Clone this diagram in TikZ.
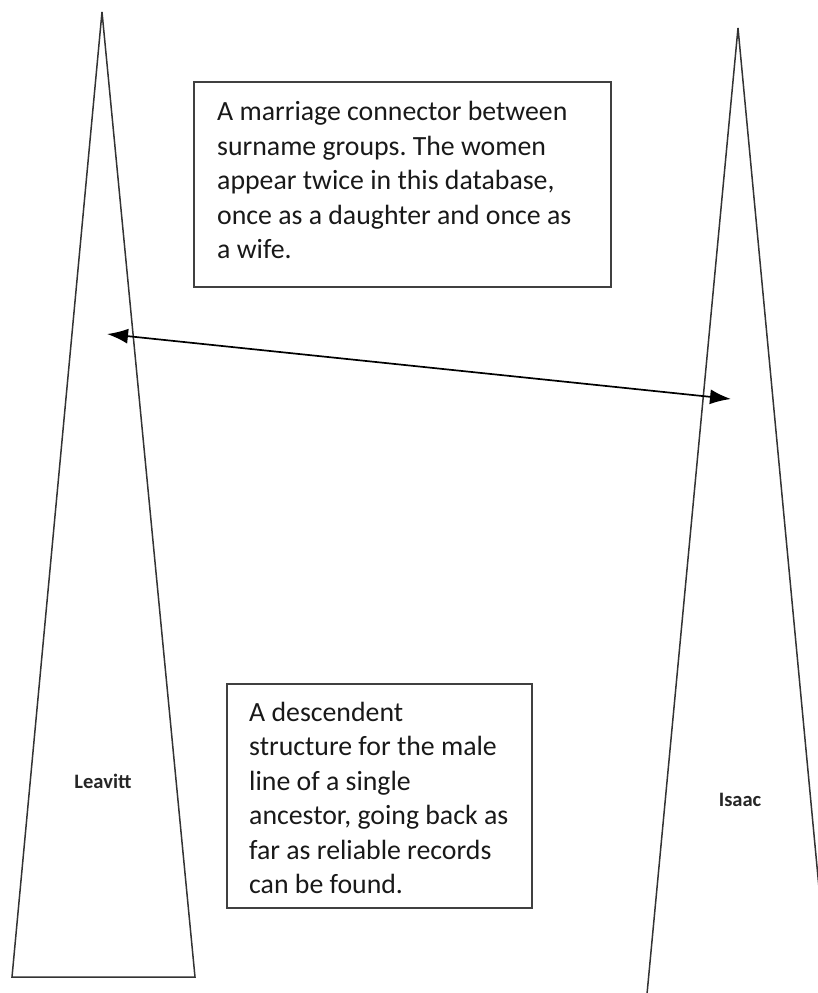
\documentclass[tikz,border=0pt]{standalone}
\usepackage{fontspec}
\setmainfont{Carlito}
\usetikzlibrary{arrows.meta}
\frenchspacing
\begin{document}
\begin{tikzpicture}[x=1pt,y=-1pt,
  tri/.style={draw=black!80, line width=1.5pt, line join=miter},
  boxstyle/.style={draw=black!75, line width=1.8pt},
  txt/.style={anchor=base west, inner sep=0pt, font=\frenchspacing\fontsize{27.8}{32}\selectfont, text=black!90},
  lbl/.style={anchor=base, inner sep=0pt, font=\bfseries\fontsize{20.5}{24}\selectfont, text=black!85},
  conn/.style={line width=1.7pt, black, {Latex[length=21pt,width=15pt]}-{Latex[length=21pt,width=15pt]}}]
\useasboundingbox (0,0) rectangle (818,993);
\clip (0,0) rectangle (818,993);
% triangles
\coordinate (LA) at (102,12);
\coordinate (LL) at (12,977);
\coordinate (LR) at (195,977);
\draw[tri] (LA) -- (LL) -- (LR) -- cycle;
\coordinate (RA) at (738,28);
\coordinate (RL) at (647,994);
\coordinate (RR) at (829,994);
\draw[tri] (RA) -- (RL) -- (RR) -- cycle;
% labels
\node[lbl] (leavitt) at (103,788) {Leavitt};
\node[lbl] (isaac) at (740,806) {Isaac};
% box 1
\node[boxstyle, minimum width=417pt, minimum height=205pt, inner sep=0pt] (box1) at (402.5,184.5) {};
\node[txt] (b1a) at (217,120) {A marriage connector between};
\node[txt] (b1b) at (217,155) {surname groups. The women};
\node[txt] (b1c) at (217,189) {appear twice in this database,};
\node[txt] (b1d) at (217,224) {once as a daughter and once as};
\node[txt] (b1e) at (217,258) {a wife.};
% box 2
\node[boxstyle, minimum width=305pt, minimum height=224pt, inner sep=0pt] (box2) at (379.5,796) {};
\node[txt] (b2a) at (249,721) {A descendent};
\node[txt] (b2b) at (249,755) {structure for the male};
\node[txt] (b2c) at (249,790) {line of a single};
\node[txt] (b2d) at (249,824) {ancestor, going back as};
\node[txt] (b2e) at (249,859) {far as reliable records};
\node[txt] (b2f) at (249,893) {can be found.};
% arrow
\coordinate (pL) at (107,334);
\coordinate (pR) at (731,399);
\draw[conn] (pL) -- (pR);
\end{tikzpicture}
\end{document}
